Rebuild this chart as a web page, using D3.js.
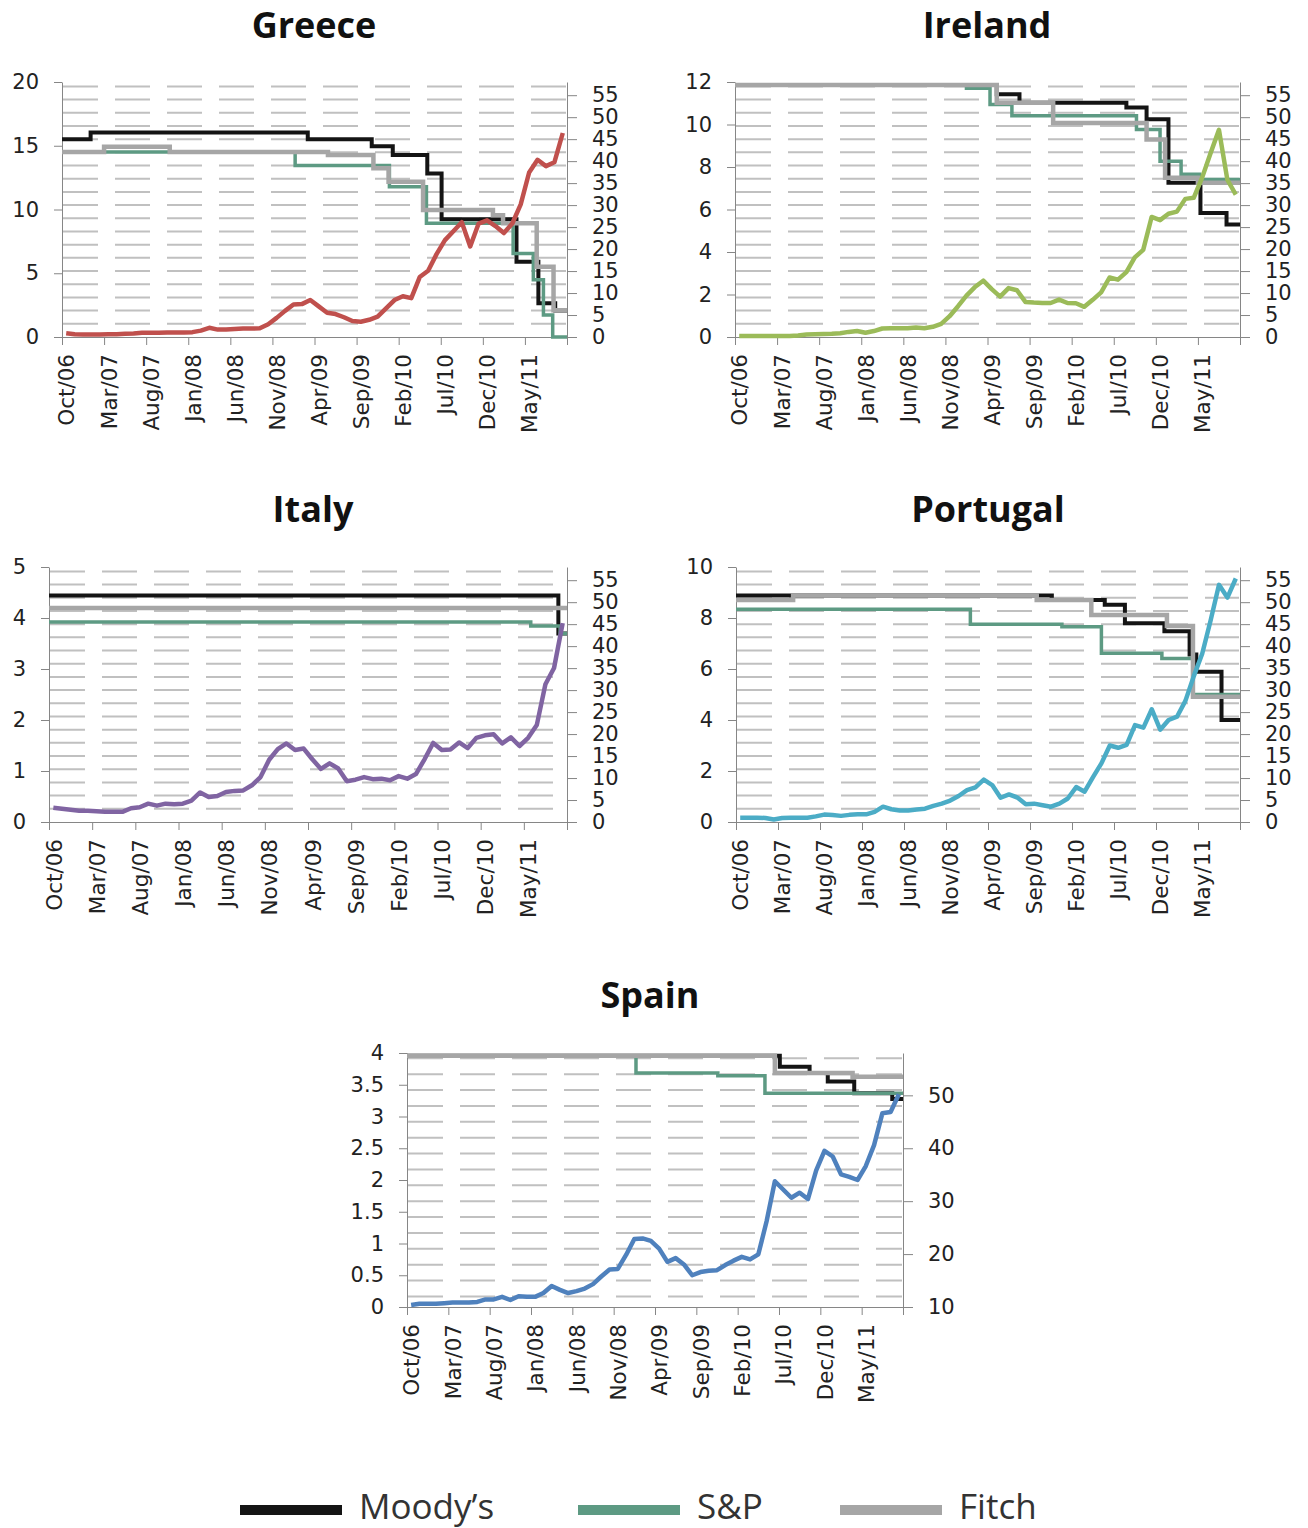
<!DOCTYPE html>
<html lang="en">
<head>
<meta charset="UTF-8" />
<title>Spreads and ratings</title>
<script src="https://cdn.jsdelivr.net/npm/d3@7/dist/d3.min.js"></script>
<style>
  body { margin: 0; background: #fff; }
  text { font-family: "Open Sans", sans-serif; fill: #222; }
  .title { font-size: 36px; font-weight: bold; fill: #111; }
  .tick text { font-family: "DejaVu Sans", sans-serif; font-size: 21px; }
  .xlabels .tick text { font-size: 21.5px; }
  .domain, .tick line { stroke: #868686; stroke-width: 1px; }
  .grid { stroke: #c0c0c0; stroke-width: 2px; stroke-dasharray: 35,17; }
  .rating { fill: none; stroke-linejoin: miter; }
  .spread { fill: none; stroke-width: 4.5px; stroke-linejoin: round; }
  .legend text { font-size: 35px; fill: #333; }
</style>
</head>
<body>
<svg id="chart" width="1308" height="1528"></svg>
<script>

// x axis: 60 monthly categories, Oct/06 .. Sep/11, labelled every 5
var xLabels = ["Oct/06","Mar/07","Aug/07","Jan/08","Jun/08","Nov/08","Apr/09","Sep/09","Feb/10","Jul/10","Dec/10","May/11"];
var nMonths = 60;

// spreads (left axis), one value per month
var greeceSpread = [0.3,0.22,0.2,0.2,0.2,0.22,0.22,0.25,0.28,0.33,0.33,0.33,0.35,0.35,0.35,0.38,0.5,0.72,0.58,0.58,
  0.62,0.66,0.66,0.68,1.0,1.5,2.05,2.55,2.58,2.9,2.4,1.9,1.8,1.55,1.25,1.2,1.35,1.6,2.25,2.9,
  3.2,3.05,4.7,5.2,6.5,7.6,8.3,9.0,7.1,8.9,9.15,8.7,8.15,8.9,10.4,12.9,13.9,13.4,13.7,16.0];
var irelandSpread = [0.05,0.05,0.05,0.05,0.05,0.05,0.05,0.07,0.12,0.13,0.14,0.15,0.18,0.24,0.28,0.2,0.28,0.4,0.41,0.41,
  0.41,0.45,0.41,0.48,0.62,0.98,1.45,1.95,2.35,2.65,2.25,1.9,2.3,2.2,1.65,1.62,1.6,1.6,1.76,1.6,
  1.59,1.42,1.75,2.1,2.8,2.7,3.05,3.75,4.1,5.65,5.5,5.8,5.9,6.5,6.55,7.5,8.65,9.75,7.4,6.7];
var italySpread = [0.28,0.26,0.24,0.22,0.22,0.21,0.2,0.2,0.2,0.27,0.29,0.36,0.32,0.36,0.35,0.36,0.42,0.58,0.49,0.51,
  0.59,0.61,0.62,0.72,0.88,1.22,1.43,1.54,1.41,1.44,1.23,1.04,1.15,1.05,0.8,0.83,0.88,0.84,0.85,0.82,
  0.9,0.85,0.94,1.23,1.55,1.41,1.42,1.56,1.45,1.65,1.7,1.72,1.54,1.66,1.49,1.65,1.9,2.7,3.02,3.9];
var portugalSpread = [0.17,0.17,0.17,0.16,0.1,0.16,0.17,0.17,0.17,0.22,0.29,0.27,0.24,0.28,0.3,0.3,0.4,0.6,0.5,0.45,
  0.45,0.49,0.52,0.63,0.72,0.84,1.02,1.25,1.36,1.66,1.45,0.95,1.08,0.96,0.7,0.72,0.66,0.6,0.72,0.92,
  1.37,1.19,1.76,2.3,3.0,2.91,3.02,3.8,3.7,4.42,3.62,4.0,4.13,4.75,5.72,6.6,7.9,9.3,8.8,9.55];
var spainSpread = [0.03,0.05,0.05,0.05,0.06,0.07,0.07,0.07,0.08,0.12,0.12,0.16,0.11,0.17,0.16,0.16,0.22,0.33,0.27,0.22,
  0.25,0.29,0.36,0.48,0.59,0.6,0.82,1.07,1.08,1.04,0.92,0.71,0.77,0.67,0.5,0.55,0.57,0.58,0.66,0.73,
  0.79,0.75,0.83,1.35,1.98,1.85,1.72,1.8,1.7,2.15,2.46,2.37,2.09,2.05,2.0,2.22,2.55,3.05,3.07,3.35];

// ratings (right axis): [month where the rating starts, rating]
var greeceMoodys = [[0,45.0],[3.4,46.5],[29.2,45.0],[36.8,43.4],[39.3,41.4],[43.4,37.2],[45.1,26.8],[54.0,17.1],[56.6,7.7],[58.6,6.0]];
var greeceSP = [[0,42.1],[27.7,39.0],[38.9,34.2],[43.3,25.9],[53.6,19.0],[56.0,13.0],[57.2,5.0],[58.3,0]];
var greeceFitch = [[0,42.1],[5.0,43.3],[12.8,42.1],[31.6,41.4],[37.0,38.4],[38.8,35.3],[42.9,28.9],[51.2,27.7],[52.4,25.9],[56.4,16.0],[58.4,6.1]];

var irelandMoodys = [[0,57.3],[31.1,55.2],[33.8,53.3],[46.5,52.2],[48.9,49.5],[51.5,35.1],[55.3,28.2],[58.4,25.6]];
var irelandSP = [[0,57.3],[27.5,56.6],[30.3,52.9],[32.9,50.3],[47.7,47.2],[50.5,40.0],[53.0,37.0],[55.2,35.8]];
var irelandFitch = [[0,57.3],[31.1,53.3],[37.8,48.7],[48.9,44.9],[51.1,36.2],[55.0,35.1]];

var italyMoodys = [[0,51.5],[59.0,42.9]];
var italySP = [[0,45.5],[55.8,44.6],[59.2,42.9]];
var italyFitch = [[0,48.7]];

var portugalMoodys = [[0,51.5],[37.6,50.5],[43.9,49.4],[46.3,45.2],[51.0,43.4],[54.0,38.1],[54.8,34.2],[57.8,23.2]];
var portugalSP = [[0,48.4],[27.9,45.0],[38.8,44.4],[43.5,38.4],[50.7,37.2],[54.4,29.0]];
var portugalFitch = [[0,50.5],[6.8,51.5],[35.8,50.5],[42.3,47.1],[51.3,44.6],[54.4,28.5]];

var spainMoodys = [[0,57.5],[45.1,55.4],[48.7,54.2],[50.9,52.6],[54.1,50.4],[58.7,49.3]];
var spainSP = [[0,57.5],[27.7,54.2],[37.6,53.7],[43.3,50.4]];
var spainFitch = [[0,57.5],[44.5,54.2],[53.9,53.5]];

var agencies = ["Moody\u2019s", "S&P", "Fitch"];
var agencyColors = ["#141414", "#5d9a83", "#a6a6a6"];
var agencyWidths = [4, 3.5, 4.5];

// layout of the five panels
var panels = [
  {name: "Greece", spread: greeceSpread, color: "#c0504d", ratings: [greeceMoodys, greeceSP, greeceFitch],
   x0: 62, x1: 567, top: 82, bottom: 337, leftMax: 20, leftStep: 5, rMin: 0, rStep: 5, titleX: 314, titleY: 38},
  {name: "Ireland", spread: irelandSpread, color: "#9bbb59", ratings: [irelandMoodys, irelandSP, irelandFitch],
   x0: 735, x1: 1240, top: 82, bottom: 337, leftMax: 12, leftStep: 2, rMin: 0, rStep: 5, titleX: 987, titleY: 38},
  {name: "Italy", spread: italySpread, color: "#8064a2", ratings: [italyMoodys, italySP, italyFitch],
   x0: 49, x1: 567, top: 567, bottom: 822, leftMax: 5, leftStep: 1, rMin: 0, rStep: 5, titleX: 313, titleY: 522},
  {name: "Portugal", spread: portugalSpread, color: "#4bacc6", ratings: [portugalMoodys, portugalSP, portugalFitch],
   x0: 736, x1: 1240, top: 567, bottom: 822, leftMax: 10, leftStep: 2, rMin: 0, rStep: 5, titleX: 988, titleY: 522},
  {name: "Spain", spread: spainSpread, color: "#4f81bd", ratings: [spainMoodys, spainSP, spainFitch],
   x0: 407, x1: 903, top: 1053, bottom: 1307, leftMax: 4, leftStep: 0.5, rMin: 10, rStep: 10, titleX: 650, titleY: 1008}
];

var svg = d3.select("#chart");

panels.forEach(function(p) {
  var g = svg.append("g");

  var x = d3.scaleLinear().domain([0, nMonths]).range([p.x0, p.x1]);
  var yL = d3.scaleLinear().domain([0, p.leftMax]).range([p.bottom, p.top]);
  var yR = d3.scaleLinear().domain([p.rMin, 58]).range([p.bottom, p.top]);

  // dashed gridlines every 3 units of the right axis
  var gridVals = d3.range(3, 58, 3).filter(function(v) { return v > p.rMin; });
  g.selectAll(".grid")
    .data(gridVals)
    .enter().append("line")
    .attr("class", "grid")
    .attr("x1", p.x0 + 1)
    .attr("x2", p.x1 - 1)
    .attr("y1", function(d) { return yR(d); })
    .attr("y2", function(d) { return yR(d); });

  // axes
  g.append("g")
    .attr("transform", "translate(" + p.x0 + ",0)")
    .call(d3.axisLeft(yL)
      .tickValues(d3.range(0, p.leftMax + 0.001, p.leftStep))
      .tickFormat(function(d) { return String(+d.toFixed(2)); })
      .tickSize(8).tickSizeOuter(0).tickPadding(15));

  g.append("g")
    .attr("transform", "translate(" + p.x1 + ",0)")
    .call(d3.axisRight(yR)
      .tickValues(d3.range(p.rMin, 56, p.rStep))
      .tickSize(10).tickSizeOuter(0).tickPadding(15));

  g.append("g")
    .attr("transform", "translate(0," + p.bottom + ")")
    .call(d3.axisBottom(x)
      .tickValues(d3.range(0, nMonths + 1, 5))
      .tickFormat("")
      .tickSize(8).tickSizeOuter(0));

  // month labels sit in the middle of their category
  var labelAxis = g.append("g")
    .attr("class", "xlabels")
    .attr("transform", "translate(0," + p.bottom + ")")
    .call(d3.axisBottom(x)
      .tickValues(xLabels.map(function(l, i) { return i * 5 + 0.5; }))
      .tickFormat(function(d) { return xLabels[Math.round((d - 0.5) / 5)]; })
      .tickSize(0));
  labelAxis.select(".domain").remove();
  labelAxis.selectAll("text")
    .attr("transform", "rotate(-90)")
    .attr("x", -17)
    .attr("y", 0)
    .attr("dy", "0.36em")
    .style("text-anchor", "end");

  // rating step lines
  var step = d3.line()
    .x(function(d) { return x(d[0]); })
    .y(function(d) { return yR(d[1]); })
    .curve(d3.curveStepAfter);

  p.ratings.forEach(function(r, i) {
    var pts = r.concat([[nMonths, r[r.length - 1][1]]]);
    g.append("path")
      .datum(pts)
      .attr("class", "rating")
      .attr("stroke", agencyColors[i])
      .attr("stroke-width", agencyWidths[i])
      .attr("d", step);
  });

  // spread line
  var line = d3.line()
    .x(function(d, i) { return x(i + 0.5); })
    .y(function(d) { return yL(d); });

  g.append("path")
    .datum(p.spread)
    .attr("class", "spread")
    .attr("stroke", p.color)
    .attr("d", line);

  g.append("text")
    .attr("class", "title")
    .attr("x", p.titleX)
    .attr("y", p.titleY)
    .attr("text-anchor", "middle")
    .text(p.name);
});

// legend
var legendX = [240, 578, 840];
var legend = svg.append("g").attr("class", "legend");
agencies.forEach(function(a, i) {
  legend.append("line")
    .attr("x1", legendX[i]).attr("x2", legendX[i] + 102)
    .attr("y1", 1510).attr("y2", 1510)
    .attr("stroke", agencyColors[i])
    .attr("stroke-width", 10);
  legend.append("text")
    .attr("x", legendX[i] + 119)
    .attr("y", 1519)
    .text(a);
});

</script>
</body>
</html>
